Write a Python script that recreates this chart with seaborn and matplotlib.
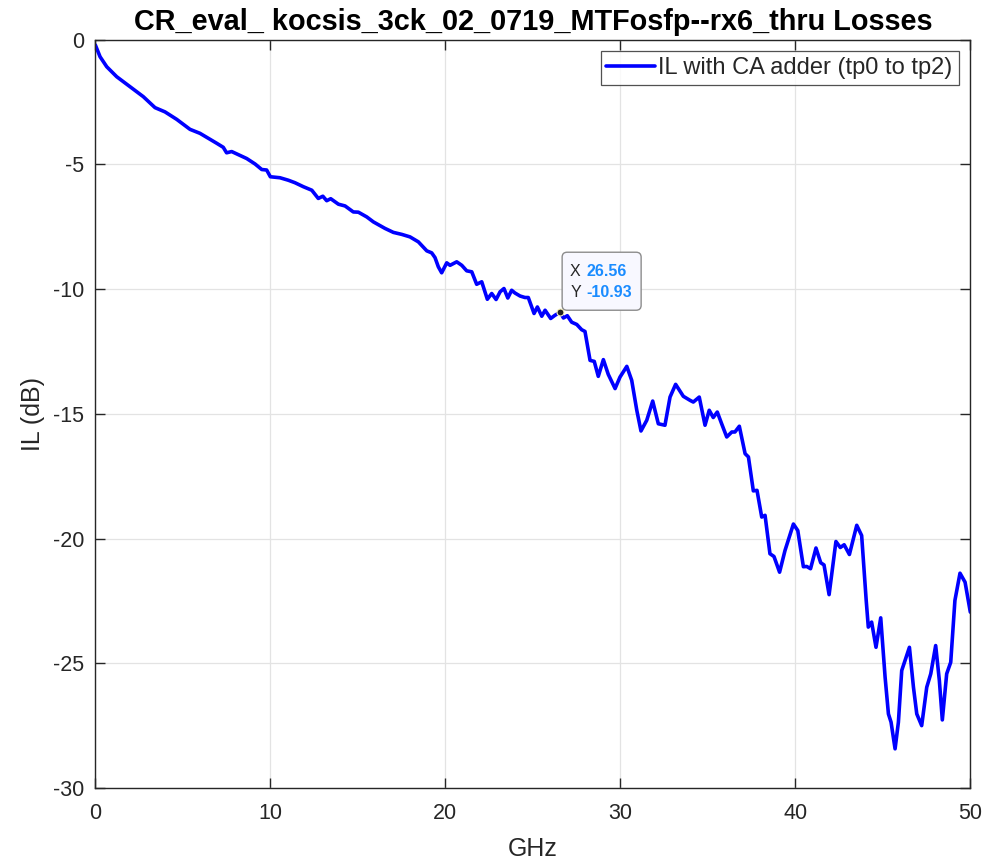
import matplotlib
matplotlib.use("Agg")
import matplotlib.pyplot as plt
from matplotlib.patches import FancyBboxPatch
from matplotlib.transforms import IdentityTransform
import seaborn as sns
import pandas as pd

# Insertion loss trace (frequency in GHz, loss in dB)
freq_ghz = [
    0.00, 0.27, 0.65, 1.22, 1.98, 2.74, 3.41, 3.98, 4.65, 5.41, 5.98, 6.94, 7.31, 7.50, 7.79,
    8.65, 9.13, 9.51, 9.79, 10.00, 10.55, 11.03, 11.41, 11.89, 12.37, 12.74, 13.00, 13.22, 13.45,
    13.89, 14.27, 14.74, 15.03, 15.51, 15.89, 16.27, 16.55, 17.03, 17.51, 17.98, 18.46, 18.94,
    19.22, 19.41, 19.60, 19.79, 20.08, 20.27, 20.65, 20.94, 21.22, 21.51, 21.79, 22.08, 22.40,
    22.65, 22.90, 23.13, 23.35, 23.57, 23.79, 23.98, 24.27, 24.55, 24.74, 25.07, 25.26, 25.51,
    25.70, 26.02, 26.27, 26.56, 26.75, 26.97, 27.22, 27.51, 27.79, 27.98, 28.27, 28.51, 28.74,
    29.03, 29.31, 29.70, 29.98, 30.37, 30.65, 30.94, 31.18, 31.51, 31.85, 32.17, 32.55, 32.84,
    33.16, 33.60, 33.98, 34.17, 34.51, 34.84, 35.08, 35.31, 35.54, 35.79, 36.08, 36.37, 36.55,
    36.80, 37.13, 37.32, 37.60, 37.81, 38.08, 38.27, 38.55, 38.78, 39.10, 39.41, 39.89, 40.14,
    40.46, 40.65, 40.87, 41.18, 41.45, 41.64, 41.93, 42.32, 42.57, 42.79, 43.09, 43.51, 43.79,
    44.05, 44.17, 44.36, 44.61, 44.88, 45.13, 45.32, 45.47, 45.70, 45.89, 46.08, 46.33, 46.52,
    46.75, 46.94, 47.22, 47.51, 47.74, 48.02, 48.23, 48.40, 48.65, 48.88, 49.12, 49.41, 49.70,
    50.00,
]
il_db = [
    -0.22, -0.69, -1.09, -1.49, -1.89, -2.29, -2.73, -2.90, -3.20, -3.60, -3.76, -4.16, -4.32,
    -4.54, -4.49, -4.77, -4.99, -5.21, -5.23, -5.50, -5.54, -5.64, -5.74, -5.90, -6.04, -6.37,
    -6.28, -6.46, -6.38, -6.60, -6.67, -6.91, -6.92, -7.11, -7.31, -7.46, -7.57, -7.73, -7.81,
    -7.91, -8.11, -8.47, -8.55, -8.74, -9.11, -9.35, -8.95, -9.05, -8.91, -9.05, -9.27, -9.31,
    -9.81, -9.71, -10.41, -10.18, -10.42, -10.11, -9.98, -10.36, -10.05, -10.16, -10.28, -10.34,
    -10.34, -10.98, -10.72, -11.09, -10.85, -11.18, -11.05, -10.93, -11.16, -11.07, -11.33,
    -11.42, -11.63, -11.70, -12.86, -12.90, -13.50, -12.83, -13.42, -13.99, -13.53, -13.10,
    -13.66, -14.86, -15.69, -15.26, -14.49, -15.40, -15.46, -14.33, -13.82, -14.30, -14.46,
    -14.53, -14.33, -15.46, -14.86, -15.15, -14.93, -15.40, -15.93, -15.73, -15.73, -15.50,
    -16.60, -16.73, -18.09, -18.07, -19.14, -19.07, -20.61, -20.72, -21.35, -20.48, -19.42,
    -19.68, -21.13, -21.12, -21.21, -20.38, -20.97, -21.06, -22.25, -20.12, -20.36, -20.25,
    -20.64, -19.47, -19.88, -22.48, -23.55, -23.35, -24.36, -23.18, -25.56, -27.03, -27.36,
    -28.43, -27.36, -25.29, -24.76, -24.36, -25.96, -27.03, -27.50, -25.96, -25.42, -24.29,
    -25.69, -27.27, -25.42, -24.96, -22.48, -21.39, -21.75, -22.95,
]

series_label = "IL with CA adder (tp0 to tp2)"
title_text = "CR_eval_ kocsis_3ck_02_0719_MTFosfp--rx6_thru Losses"
tip_x, tip_y = 26.56, -10.93

x_ticks = [0, 10, 20, 30, 40, 50]
y_ticks = [0, -5, -10, -15, -20, -25, -30]

df = pd.DataFrame({"GHz": freq_ghz, "IL (dB)": il_db})

sns.set_theme(style="ticks")
plt.rcParams["font.family"] = ["Liberation Sans", "DejaVu Sans"]
plt.rcParams["axes.unicode_minus"] = False

fig = plt.figure(figsize=(9.86, 8.65), dpi=100)
ax = fig.add_axes([0.0967, 0.089, 0.8874, 0.8653])

sns.lineplot(data=df, x="GHz", y="IL (dB)", ax=ax, color="#0000ff", linewidth=2.6,
             label=series_label, sort=False)

ax.set_xlim(0, 50)
ax.set_ylim(-30, 0)
ax.set_xticks(x_ticks)
ax.set_yticks(y_ticks)
ax.set_xticklabels([str(t) for t in x_ticks])
ax.set_yticklabels([str(t) for t in y_ticks])
ax.grid(True, color="#e3e3e3", linewidth=0.9)
ax.set_axisbelow(True)
ax.tick_params(direction="in", length=7, width=1.0, colors="#262626",
               labelsize=15.5, top=True, right=True)
ax.tick_params(axis="x", pad=11)
ax.tick_params(axis="y", pad=8)
for sp in ax.spines.values():
    sp.set_visible(True)
    sp.set_color("#262626")
    sp.set_linewidth(1.0)

ax.set_xlabel("GHz", fontsize=18, color="#262626", labelpad=9)
ax.set_ylabel("IL (dB)", fontsize=18, color="#262626", labelpad=6)
ax.set_title(title_text, fontsize=20.8, fontweight="bold", color="black", pad=7)

leg = ax.legend(loc="upper right", fontsize=17, frameon=True, fancybox=False,
                handlelength=2.05, handletextpad=0.15, borderpad=0.25, borderaxespad=0,
                bbox_to_anchor=(0.9865, 0.9845))
leg.get_frame().set_edgecolor("#262626")
leg.get_frame().set_linewidth(0.9)

# Data tip: marker, rounded box and X/Y readout
ax.plot([tip_x], [tip_y], marker="o", markersize=5, color="#222222",
        markeredgecolor="#f5f0c0", markeredgewidth=0.8, zorder=5)
px, py = ax.transData.transform((tip_x, tip_y))
tip_box = FancyBboxPatch((px + 2, py + 2), 79, 58,
                         boxstyle="round,pad=0,rounding_size=5",
                         facecolor="#f8f8ff", edgecolor="#8c8c8c", linewidth=1.0,
                         transform=IdentityTransform(), zorder=6, clip_on=False)
ax.add_patch(tip_box)
row_kw = dict(xy=(tip_x, tip_y), textcoords="offset pixels", fontsize=11.5,
              ha="left", va="center", zorder=7)
ax.annotate("X", xytext=(10, 41), color="#262626", **row_kw)
ax.annotate("Y", xytext=(10, 20), color="#262626", **row_kw)
ax.annotate(f"{tip_x:.2f}", xytext=(26, 41), color="#1a8cff", fontweight="bold", **row_kw)
ax.annotate(f"{tip_y:.2f}", xytext=(26, 20), color="#1a8cff", fontweight="bold", **row_kw)

fig.savefig("out.png", dpi=100)
